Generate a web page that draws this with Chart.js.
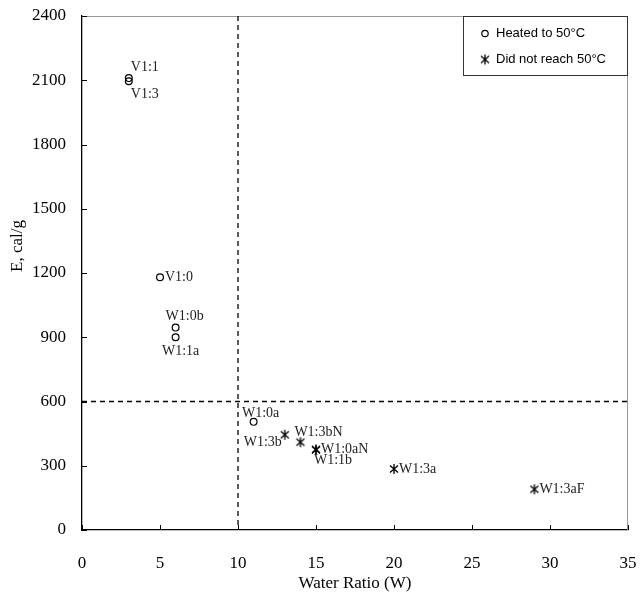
<!DOCTYPE html>
<html><head><meta charset="utf-8">
<script src="https://cdn.jsdelivr.net/npm/chart.js@4/dist/chart.umd.min.js"></script>
<style>html,body{margin:0;padding:0;background:#fff}#wrap{width:640px;height:610px}</style>
</head><body><div id="wrap"><canvas id="c" width="640" height="610"></canvas></div>
<script>
// ---- data ----
const seriesNames = ['Heated to 50°C', 'Did not reach 50°C'];
const heatedLabels = ['V1:1', 'V1:3', 'V1:0', 'W1:0b', 'W1:1a', 'W1:0a'];
const heatedX = [3, 3, 5, 6, 6, 11];
const heatedY = [2110, 2095, 1180, 945, 900, 505];
const notLabels = ['W1:3b', 'W1:3bN', 'W1:0aN', 'W1:1b', 'W1:3a', 'W1:3aF'];
const notX = [13, 14, 15, 15, 20, 29];
const notY = [445, 410, 375, 375, 285, 190];
const xTicks = [0, 5, 10, 15, 20, 25, 30, 35];
const yTicks = [0, 300, 600, 900, 1200, 1500, 1800, 2100, 2400];
const thresholdX = 10;
const thresholdY = 600;
const xTitle = 'Water Ratio (W)';
const yTitle = 'E, cal/g';

// label placement (style only)
const heatedPlace = ['aboveR', 'belowR', 'right', 'above', 'below', 'aboveC'];
const notPlace = ['left', 'aboveL', 'right', 'belowL', 'right', 'right'];
const placeStyle = {
  aboveR: {dx: 2, dy: -11, align: 'left'},
  belowR: {dx: 2, dy: 13, align: 'left'},
  right: {dx: 5, dy: 0, align: 'left'},
  above: {dx: 9, dy: -11, align: 'center'},
  below: {dx: 5, dy: 14, align: 'center'},
  aboveC: {dx: 7, dy: -9, align: 'center'},
  left: {dx: -3, dy: 8, align: 'right'},
  aboveL: {dx: -6, dy: -10, align: 'left'},
  belowL: {dx: -2, dy: 11, align: 'left'}
};

// custom asterisk marker (vertical bar + X)
function makeStar() {
  const c = document.createElement('canvas');
  c.width = 12; c.height = 12;
  const g = c.getContext('2d');
  g.strokeStyle = '#000'; g.lineWidth = 1.3;
  g.beginPath();
  g.moveTo(6, 1); g.lineTo(6, 11);
  g.moveTo(2, 2.5); g.lineTo(10, 9.5);
  g.moveTo(10, 2.5); g.lineTo(2, 9.5);
  g.stroke();
  return c;
}
const starImg = makeStar();

const serif = "'Liberation Serif', 'Times New Roman', serif";
const sans = "'Liberation Sans', Arial, sans-serif";

const decor = {
  id: 'decor',
  beforeDatasetsDraw(chart) {
    const {ctx, chartArea: a, scales: {x, y}} = chart;
    ctx.save();
    // top & right frame
    ctx.strokeStyle = '#999'; ctx.lineWidth = 1;
    ctx.beginPath();
    ctx.moveTo(a.left, a.top + 0.5); ctx.lineTo(a.right, a.top + 0.5);
    ctx.moveTo(a.right - 0.5, a.top); ctx.lineTo(a.right - 0.5, a.bottom);
    ctx.stroke();
    // inward ticks
    ctx.strokeStyle = '#000'; ctx.lineWidth = 1;
    ctx.beginPath();
    xTicks.forEach(v => { const px = Math.round(x.getPixelForValue(v)) + 0.5; ctx.moveTo(px, a.bottom); ctx.lineTo(px, a.bottom - 5); });
    yTicks.forEach(v => { const py = Math.round(y.getPixelForValue(v)) + 0.5; ctx.moveTo(a.left, py); ctx.lineTo(a.left + 5, py); });
    ctx.stroke();
    // threshold dashed lines
    ctx.strokeStyle = '#000'; ctx.lineWidth = 1.3; ctx.setLineDash([5, 4]);
    const tx = x.getPixelForValue(thresholdX), ty = y.getPixelForValue(thresholdY);
    ctx.beginPath();
    ctx.moveTo(tx, a.top); ctx.lineTo(tx, a.bottom);
    ctx.moveTo(a.left, ty); ctx.lineTo(a.right, ty);
    ctx.stroke();
    ctx.restore();
  },
  afterDatasetsDraw(chart) {
    const {ctx, chartArea: a} = chart;
    ctx.save();
    // y axis title
    ctx.save();
    ctx.translate(18, 246); ctx.rotate(-Math.PI / 2);
    ctx.font = '17px ' + serif; ctx.fillStyle = '#000';
    ctx.textAlign = 'center'; ctx.textBaseline = 'middle';
    ctx.fillText(yTitle, 0, 0);
    ctx.restore();
    // point labels
    ctx.font = '14px ' + serif; ctx.fillStyle = '#222'; ctx.textBaseline = 'middle';
    const lists = [[heatedLabels, heatedPlace], [notLabels, notPlace]];
    lists.forEach(([labs, places], di) => {
      const meta = chart.getDatasetMeta(di);
      meta.data.forEach((pt, i) => {
        const s = placeStyle[places[i]];
        ctx.textAlign = s.align;
        ctx.fillText(labs[i], pt.x + s.dx, pt.y + s.dy);
      });
    });
    // legend box
    const lx = 463.5, ly = a.top + 0.5, lw = a.right - 0.5 - lx, lh = 59;
    ctx.fillStyle = '#fff'; ctx.fillRect(lx, ly, lw, lh);
    ctx.strokeStyle = '#333'; ctx.lineWidth = 1; ctx.strokeRect(lx, ly, lw, lh);
    ctx.font = '13px ' + sans; ctx.fillStyle = '#000'; ctx.textAlign = 'left';
    const rows = [ly + 17, ly + 43];
    ctx.beginPath(); ctx.lineWidth = 1.2; ctx.strokeStyle = '#000';
    ctx.arc(485, rows[0], 3.2, 0, Math.PI * 2); ctx.stroke();
    ctx.drawImage(starImg, 485 - 6, rows[1] - 6);
    ctx.fillText(seriesNames[0], 496, rows[0]);
    ctx.fillText(seriesNames[1], 496, rows[1]);
    ctx.restore();
  }
};

new Chart(document.getElementById('c'), {
  type: 'scatter',
  data: {
    datasets: [
      {
        label: seriesNames[0],
        data: heatedX.map((v, i) => ({x: v, y: heatedY[i]})),
        pointStyle: 'circle', pointRadius: 3.4, pointBorderWidth: 1.2,
        borderColor: '#000', backgroundColor: 'rgba(0,0,0,0)'
      },
      {
        label: seriesNames[1],
        data: notX.map((v, i) => ({x: v, y: notY[i]})),
        pointStyle: starImg, pointRadius: 6,
        borderColor: '#000', backgroundColor: '#000'
      }
    ]
  },
  options: {
    responsive: false,
    animation: false,
    devicePixelRatio: 1,
    layout: {padding: {top: 16, right: 12, bottom: 0, left: 0}},
    plugins: {legend: {display: false}, tooltip: {enabled: false}},
    scales: {
      x: {
        type: 'linear', min: 0, max: 35,
        afterBuildTicks: s => { s.ticks = xTicks.map(v => ({value: v})); },
        afterFit: s => { s.height = 80; s.paddingLeft = 0; s.paddingRight = 0; },
        grid: {display: false, drawTicks: false},
        border: {display: true, color: '#000', width: 1.3},
        ticks: {padding: 23, color: '#000', font: {family: serif, size: 17}, callback: v => String(v)},
        title: {display: true, text: xTitle, color: '#000', font: {family: serif, size: 17}, padding: {top: 0, bottom: 16}}
      },
      y: {
        type: 'linear', min: 0, max: 2400,
        afterBuildTicks: s => { s.ticks = yTicks.map(v => ({value: v})); },
        afterFit: s => { s.width = 82; s.paddingTop = 0; s.paddingBottom = 0; },
        grid: {display: false, drawTicks: false},
        border: {display: true, color: '#000', width: 1.3},
        ticks: {padding: 16, color: '#000', font: {family: serif, size: 17}, callback: v => String(v)},
        title: {display: false, text: yTitle}
      }
    }
  },
  plugins: [decor]
});
</script>
</body></html>
